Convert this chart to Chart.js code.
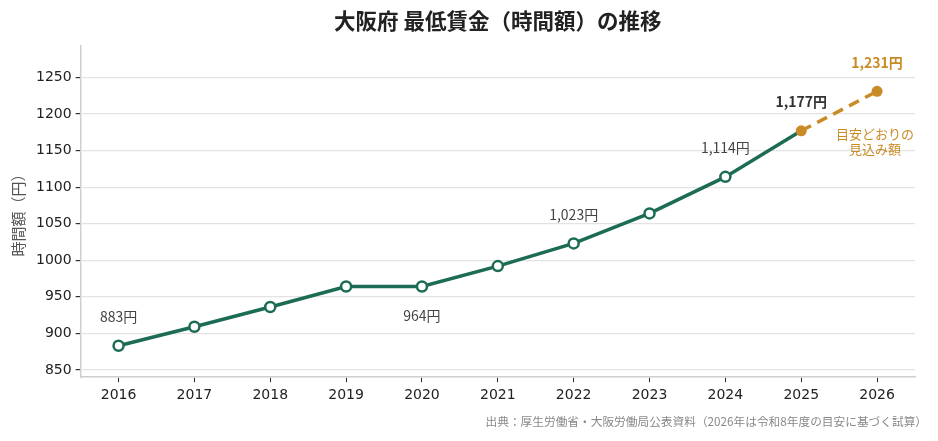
<!DOCTYPE html>
<html>
<head>
<meta charset="utf-8">
<script src="https://cdn.jsdelivr.net/npm/chart.js@4.4.1/dist/chart.umd.min.js"></script>
<style>
  html, body { margin: 0; padding: 0; background: #fff; }
  #wrap { width: 938px; height: 441px; }
</style>
</head>
<body>
<div id="wrap"><canvas id="chart"></canvas></div>
<script>
// data
const years = ["2016","2017","2018","2019","2020","2021","2022","2023","2024","2025","2026"];
const wages = [883, 909, 936, 964, 964, 992, 1023, 1064, 1114, 1177, null];
const projected = [null, null, null, null, null, null, null, null, null, 1177, 1231];
const yTicks = [850, 900, 950, 1000, 1050, 1100, 1150, 1200, 1250];

// which points get a value label, and where (-1 above, 1 below)
const labelYears = ["2016", "2020", "2022", "2024", "2025", "2026"];
const labelSide = [-1, 1, -1, -1, -1, -1];

const GREEN = "#1b6b55";
const ORANGE = "#c98b26";
const JP = "'Noto Sans CJK JP', 'Noto Sans', sans-serif";

function fmt(v){
  return v.toLocaleString("en-US") + "円";
}

const labelPlugin = {
  id: "labels",
  afterDatasetsDraw(chart){
    const ctx = chart.ctx;
    const xs = chart.scales.x, ys = chart.scales.y;
    const area = chart.chartArea;
    ctx.save();
    ctx.textAlign = "center";
    ctx.textBaseline = "middle";

    // title, centred over the plot area
    ctx.fillStyle = "#222";
    ctx.font = "bold 21.5px " + JP;
    ctx.fillText("大阪府 最低賃金（時間額）の推移", (area.left + area.right) / 2, 21);

    labelYears.forEach((yr, i) => {
      const idx = years.indexOf(yr);
      const v = wages[idx] != null ? wages[idx] : projected[idx];
      const x = xs.getPixelForValue(idx);
      const y = ys.getPixelForValue(v);
      let color = "#444", weight = "normal", size = 14;
      if(yr === "2025"){ color = "#333"; weight = "bold"; size = 14; }
      if(yr === "2026"){ color = ORANGE; weight = "bold"; size = 14; }
      ctx.fillStyle = color;
      ctx.font = weight + " " + size + "px " + JP;
      ctx.fillText(fmt(v), x, y + labelSide[i] * 29);
    });
    // note for projection
    const i26 = years.indexOf("2026");
    const px = xs.getPixelForValue(i26) - 2;
    const py = ys.getPixelForValue(projected[i26]);
    ctx.fillStyle = ORANGE;
    ctx.font = "13px " + JP;
    ctx.fillText("目安どおりの", px, py + 43);
    ctx.fillText("見込み額", px, py + 58);

    // source
    ctx.textAlign = "right";
    ctx.fillStyle = "#888";
    ctx.font = "11.7px " + JP;
    ctx.fillText("出典：厚生労働省・大阪労働局公表資料（2026年は令和8年度の目安に基づく試算）", 927, 422);
    ctx.restore();
  }
};

const ctx = document.getElementById("chart").getContext("2d");

const chart = new Chart(ctx, {
  type: "line",
  data: {
    labels: years,
    datasets: [
      {
        label: "最低賃金",
        data: wages,
        borderColor: GREEN,
        borderWidth: 3.5,
        backgroundColor: "#fff",
        pointBackgroundColor: "#fff",
        pointBorderColor: GREEN,
        pointBorderWidth: 2.5,
        pointRadius: wages.map((v, i) => i === 9 ? 0 : 5),
        tension: 0,
        order: 2
      },
      {
        label: "見込み",
        data: projected,
        borderColor: ORANGE,
        borderWidth: 3.5,
        borderDash: [11, 7],
        pointBackgroundColor: ORANGE,
        pointBorderColor: ORANGE,
        pointRadius: 5.5,
        pointBorderWidth: 0,
        tension: 0,
        order: 1
      }
    ]
  },
  options: {
    responsive: true,
    maintainAspectRatio: false,
    animation: false,
    layout: { padding: { left: 9, right: 23, bottom: 32, top: 46 } },
    plugins: {
      legend: { display: false },
      tooltip: { enabled: false },
      title: { display: false }
    },
    scales: {
      x: {
        offset: true,
        grid: {
          drawOnChartArea: false,
          drawTicks: true,
          tickLength: 5,
          tickColor: "#333",
          offset: false
        },
        border: { color: "#cfcfcf", width: 1.5 },
        ticks: {
          color: "#222",
          font: { family: "'DejaVu Sans', sans-serif", size: 14 },
          padding: 5,
          maxRotation: 0
        }
      },
      y: {
        min: 840,
        max: 1293,
        afterBuildTicks(scale){
          scale.ticks = yTicks.map(v => ({ value: v }));
        },
        grid: {
          color: "#e3e3e3",
          lineWidth: 1.2,
          tickLength: 5,
          tickColor: "#333"
        },
        border: { color: "#cfcfcf", width: 1.5 },
        ticks: {
          color: "#222",
          font: { family: "'DejaVu Sans', sans-serif", size: 14 },
          padding: 4,
          callback: v => String(v)
        },
        title: {
          display: true,
          text: "時間額（円）",
          color: "#555",
          font: { family: JP, size: 15 },
          padding: { top: 0, bottom: 5 }
        }
      }
    }
  },
  plugins: [labelPlugin]
});
</script>
</body>
</html>
